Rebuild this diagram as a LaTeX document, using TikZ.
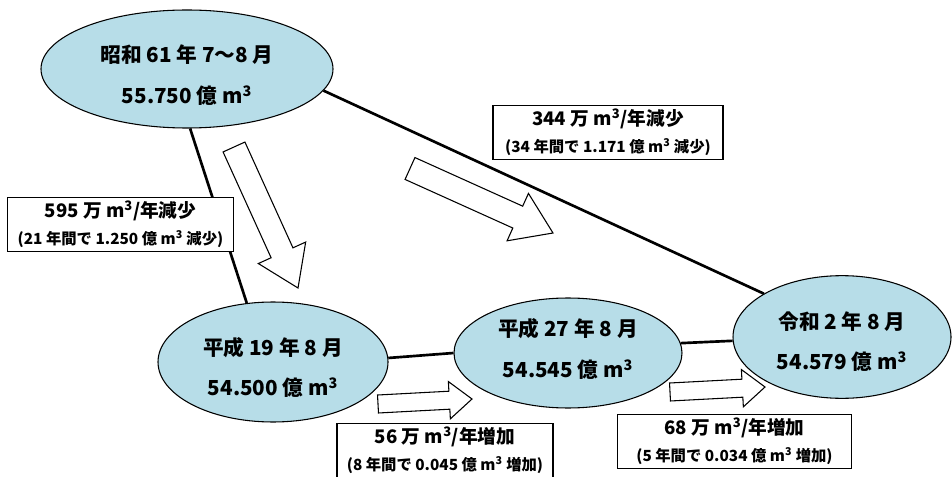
\documentclass[tikz,border=0pt]{standalone}
\usepackage{fontspec}
\usetikzlibrary{shapes.geometric,calc}
\newfontfamily\jpfont{Noto Sans CJK JP}
\definecolor{lakeblue}{RGB}{183,221,232}
\newcommand\cubic{m\textsuperscript{3}}
% block arrow from tail #1 to tip #2: half shaft, half head, head length
\newcommand\fatarrow[5]{%
  \coordinate (#2h) at ($(#2)!#5!(#1)$);
  \draw[fat] ($(#1)!#3!90:(#2)$) -- ($(#2h)!#3!90:(#2)$) -- ($(#2h)!#4!90:(#2)$) -- (#2)
    -- ($(#2h)!#4!-90:(#2)$) -- ($(#2h)!#3!-90:(#2)$) -- ($(#1)!#3!-90:(#2)$) -- cycle;}
\begin{document}
\begin{tikzpicture}[x=0.75pt,y=-0.75pt,
    period/.style={ellipse, draw, fill=lakeblue, line width=0.8pt, inner sep=0pt},
    periodtext/.style={align=center, inner sep=0pt,
      font=\jpfont\bfseries\fontsize{15.5}{30.5}\selectfont},
    ratebox/.style={draw, fill=white, line width=0.8pt, inner sep=0pt, align=center,
      minimum height=41pt, font=\jpfont\bfseries\fontsize{14}{20}\selectfont},
    link/.style={line width=2pt},
    fat/.style={draw, fill=white, line width=0.8pt}]
  \useasboundingbox (0,0) rectangle (952,477);
  \node[period, minimum width=219pt, minimum height=88.5pt] (s61) at (187,69) {};
  \node[period, minimum width=172.5pt, minimum height=90pt] (h19) at (273,362) {};
  \node[period, minimum width=171pt, minimum height=82.5pt] (h27) at (568,353) {};
  \node[period, minimum width=163.5pt, minimum height=92pt] (r2) at (842,337) {};
  \node[periodtext] (s61t) at ([yshift=-4.5pt]s61.center) {昭和 61 年 7～8 月\\55.750 億 \cubic};
  \node[periodtext] (h19t) at ([yshift=-4pt]h19.center) {平成 19 年 8 月\\54.500 億 \cubic};
  \node[periodtext] (h27t) at ([yshift=3pt]h27.center) {平成 27 年 8 月\\54.545 億 \cubic};
  \node[periodtext] (r2t) at ([yshift=-3.5pt]r2.center) {令和 2 年 8 月\\54.579 億 \cubic};
  \begin{scope}[link]
    \draw (s61.-87) -- (h19.114);
    \draw (s61.-9.5) -- (r2.151);
    \draw (h19.2) -- (h27.west);
    \draw (h27.5) -- (r2.182);
  \end{scope}
  % block arrows
  \coordinate (a1) at (234,147);
  \coordinate (a1tip) at (298,288);
  \coordinate (a2) at (410,168.5);
  \coordinate (a2tip) at (553,233);
  \coordinate (a3) at (378,404);
  \coordinate (a3tip) at (472,399);
  \coordinate (a4) at (670,392);
  \coordinate (a4tip) at (765,387);
  \fatarrow{a1}{a1tip}{9pt}{19.5pt}{29pt}
  \fatarrow{a2}{a2tip}{9pt}{19.5pt}{29pt}
  \fatarrow{a3}{a3tip}{6.75pt}{14pt}{17pt}
  \fatarrow{a4}{a4tip}{6.75pt}{14pt}{17pt}
  % rate boxes
  \node[ratebox, minimum width=169pt] (d21) at (120.5,224.5)
    {595 万 \cubic/年減少\\\fontsize{11.5}{20}\selectfont (21 年間で 1.250 億 \cubic{} 減少)};
  \node[ratebox, minimum width=172.5pt] (d34) at (608,132.5)
    {344 万 \cubic/年減少\\\fontsize{11.5}{20}\selectfont (34 年間で 1.171 億 \cubic{} 減少)};
  \node[ratebox, minimum width=162pt] (i8) at (445,450.5)
    {56 万 \cubic/年増加\\\fontsize{11.5}{20}\selectfont (8 年間で 0.045 億 \cubic{} 増加)};
  \node[ratebox, minimum width=176pt, minimum height=40pt] (i5) at (734.5,441.5)
    {68 万 \cubic/年増加\\\fontsize{11.5}{20}\selectfont (5 年間で 0.034 億 \cubic{} 増加)};
\end{tikzpicture}
\end{document}
